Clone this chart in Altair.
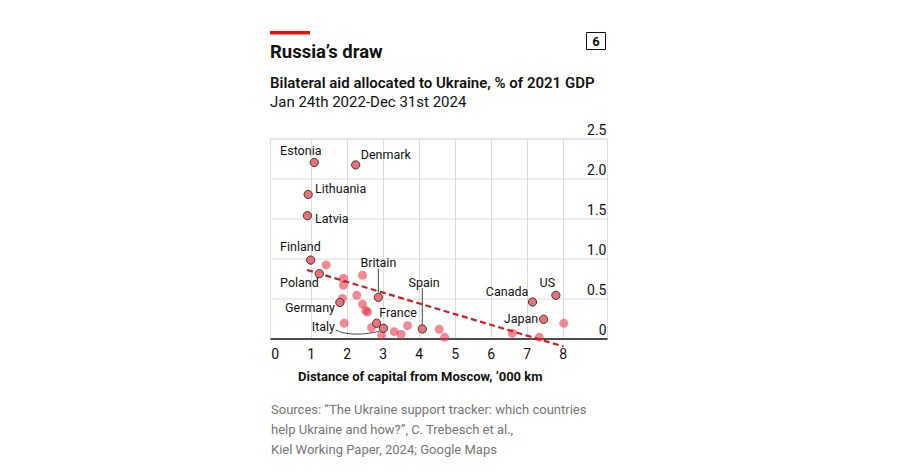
import altair as alt
import pandas as pd

# ---- data ----
labeled_names = ["Estonia", "Denmark", "Lithuania", "Latvia", "Finland", "Poland", "Britain",
                 "Germany", "France", "Italy", "Spain", "Canada", "US", "Japan"]
labeled_x = [1.10, 2.25, 0.93, 0.91, 1.00, 1.24, 2.88, 1.81, 2.83, 3.02, 4.10, 7.16, 7.81, 7.47]
labeled_y = [2.20, 2.17, 1.80, 1.535, 0.98, 0.81, 0.515, 0.45, 0.19, 0.127, 0.119, 0.456, 0.54, 0.24]

# annotation placement (data coordinates) for each country label
label_x = [0.15, 2.39, 1.12, 1.12, 0.15, 0.15, 2.88, 1.675, 2.905, 1.675, 4.15, 7.045, 7.79, 7.32]
label_y = [2.35, 2.29, 1.865, 1.49, 1.14, 0.70, 0.95, 0.38, 0.32, 0.14, 0.70, 0.585, 0.69, 0.24]
label_align = ["left", "left", "left", "left", "left", "left", "center",
               "right", "left", "right", "center", "right", "right", "right"]

other_x = [1.43, 1.91, 2.44, 1.91, 2.28, 1.88, 2.44, 2.53, 2.58, 1.93, 2.69, 2.97, 3.32,
           3.51, 3.69, 4.57, 4.72, 6.60, 7.35, 8.03]
other_y = [0.92, 0.75, 0.79, 0.665, 0.54, 0.50, 0.43, 0.35, 0.33, 0.19, 0.135, 0.04, 0.085,
           0.05, 0.16, 0.115, 0.015, 0.065, 0.015, 0.19]

trend_x = [0.90, 8.02]
trend_y = [0.857, -0.10]

leader_x = [2.88, 2.88, 4.10, 4.10]
leader_y = [0.87, 0.575, 0.63, 0.165]
leader_id = ["Britain", "Britain", "Spain", "Spain"]

italy_curve_x = [1.69, 1.95, 2.35, 2.70, 2.90]
italy_curve_y = [0.105, 0.06, 0.05, 0.07, 0.09]

x_ticks = [0, 1, 2, 3, 4, 5, 6, 7, 8]
y_ticks = [0, 0.5, 1.0, 1.5, 2.0, 2.5]

title = "Russia’s draw"
subtitle = "Bilateral aid allocated to Ukraine, % of 2021 GDP"
period = "Jan 24th 2022-Dec 31st 2024"
x_title = "Distance of capital from Moscow, ’000 km"
sources = ["Sources: “The Ukraine support tracker: which countries",
           "help Ukraine and how?”, C. Trebesch et al.,",
           "Kiel Working Paper, 2024; Google Maps"]
chart_no = "6"

FONT = "Roboto"
W, H = 337, 200

labeled = pd.DataFrame({"name": labeled_names, "x": labeled_x, "y": labeled_y,
                        "lx": label_x, "ly": label_y, "align": label_align})
others = pd.DataFrame({"x": other_x, "y": other_y})
trend = pd.DataFrame({"x": trend_x, "y": trend_y})
leaders = pd.DataFrame({"x": leader_x, "y": leader_y, "id": leader_id})
curve = pd.DataFrame({"x": italy_curve_x, "y": italy_curve_y})

xs = alt.Scale(domain=[-0.13, 9.23], nice=False, zero=False)
ys = alt.Scale(domain=[0, 2.5], nice=False)

xaxis = alt.Axis(values=x_ticks, title=None, ticks=False, labelFontSize=14, labelFont=FONT,
                 labelColor="#121212", labelPadding=9, domainColor="#4d4d4d", domainWidth=2,
                 gridColor="#dcdcdc", gridWidth=1, labelOverlap=False,
                 gridOpacity={"condition": {"test": "datum.value === 0", "value": 0}, "value": 1},
                 labelFlush=False)
yaxis = alt.Axis(values=y_ticks, orient="right", title=None, ticks=False, domain=False,
                 labelAlign="right", labelBaseline="bottom", labelPadding=-1, labelOffset=-1,
                 labelFontSize=14, labelFont=FONT, labelColor="#121212", labelOverlap=False,
                 labelBound=False, gridColor="#dcdcdc", gridWidth=1,
                 labelExpr="datum.value == 0 ? '0' : format(datum.value, '.1f')")

X = lambda f: alt.X(f, scale=xs, axis=xaxis)
Y = lambda f: alt.Y(f, scale=ys, axis=yaxis)

pts_other = alt.Chart(others).mark_circle(size=80, color="#E8283A", opacity=0.55).encode(
    x=X("x:Q"), y=Y("y:Q"))

trend_line = alt.Chart(trend).mark_line(color="#D71A21", strokeWidth=2.2,
                                        strokeDash=[6, 3.5], clip=False).encode(
    x=X("x:Q"), y=Y("y:Q"))

leader_lines = alt.Chart(leaders).mark_line(color="#333333", strokeWidth=0.9).encode(
    x=X("x:Q"), y=Y("y:Q"), detail="id:N")

italy_line = alt.Chart(curve).mark_line(color="#333333", strokeWidth=0.9,
                                        interpolate="basis").encode(
    x=X("x:Q"), y=Y("y:Q"))

pts_lab = alt.Chart(labeled).mark_circle(size=68, color="#EE6F77", opacity=1,
                                         stroke="#3a3a3a", strokeWidth=1).encode(
    x=X("x:Q"), y=Y("y:Q"))

def lab(al):
    return alt.Chart(labeled[labeled["align"] == al]).mark_text(
        align=al, baseline="middle", font=FONT, fontSize=12.5, color="#121212").encode(
        x=X("lx:Q"), y=Y("ly:Q"), text="name:N")

def txt(values, x, y, size, weight="normal", color="#121212", align="left"):
    df = pd.DataFrame({"t": values})
    return alt.Chart(df).mark_text(align=align, baseline="alphabetic", font=FONT,
                                   fontSize=size, fontWeight=weight, color=color).encode(
        x=alt.value(x), y=alt.value(y), text="t:N")

red_bar = alt.Chart(pd.DataFrame({"a": [0]})).mark_rect(color="#E3120B").encode(
    x=alt.value(0), x2=alt.value(40), y=alt.value(-107.5), y2=alt.value(-104))
box = alt.Chart(pd.DataFrame({"a": [0]})).mark_rect(fill="white", stroke="#121212",
                                                     strokeWidth=1).encode(
    x=alt.value(316.5), x2=alt.value(335.5), y=alt.value(-106), y2=alt.value(-89))

t_title = txt([title], 0, -80.8, 18.5, "bold")
t_sub = txt([subtitle], 0, -50.2, 15, 600)
t_period = txt([period], 0, -31.2, 15)
t_no = txt([chart_no], 326, -92.5, 13, "bold", align="center")
t_xtitle = txt([x_title], 28, 242.5, 13, "bold")
t_src = [txt([s], 1, 275.3 + 20 * i, 13, color="#767676") for i, s in enumerate(sources)]

chart = alt.layer(
    pts_other, trend_line, leader_lines, italy_line, pts_lab,
    lab("left"), lab("right"), lab("center"),
    red_bar, box, t_title, t_sub, t_period, t_no, t_xtitle, *t_src,
).properties(
    width=W, height=H,
    autosize=alt.AutoSizeParams(type="none"),
    padding={"left": 262, "top": 130.5, "right": 30, "bottom": 122},
).configure_view(stroke=None).configure(font=FONT).configure_axis(labelOverlap=False)

chart.save("out.html", embed_options={"renderer": "svg", "actions": False})
